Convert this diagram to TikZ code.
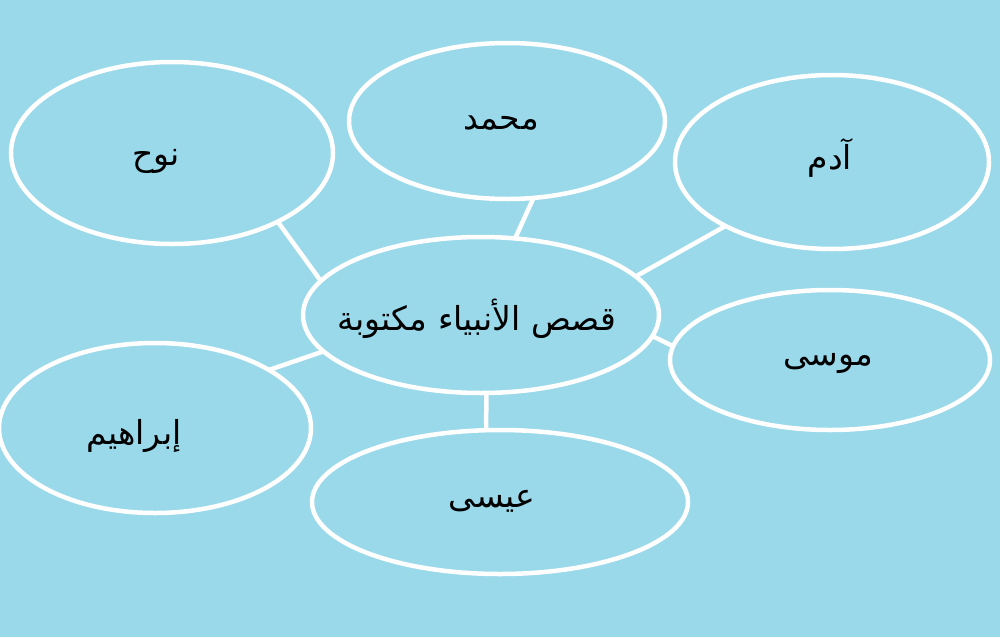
\documentclass[tikz,border=0pt]{standalone}
\usepackage{fontspec}
\newfontfamily\arabicfont[Script=Arabic]{DejaVu Sans}
\TeXXeTstate=1
\usetikzlibrary{shapes.geometric}
\definecolor{bg}{RGB}{153,217,234}
\begin{document}
\begin{tikzpicture}[x=1pt,y=-1pt,
  oval/.style={ellipse, draw=white, line width=4.5pt, inner sep=0pt, outer sep=0pt},
  link/.style={draw=white, line width=4.5pt},
  lbl/.style={font=\arabicfont\fontsize{33}{40}\selectfont, text=black, inner sep=0pt}]
\fill[bg] (0,0) rectangle (1000,637);
\useasboundingbox (0,0) rectangle (1000,637);
% ellipses
\node[oval, minimum width=356pt, minimum height=156pt] (c) at (481,315) {};
\node[oval, minimum width=322pt, minimum height=182pt] (nooh) at (172,153) {};
\node[oval, minimum width=316pt, minimum height=156pt] (muh) at (507,121) {};
\node[oval, minimum width=314pt, minimum height=174pt] (adam) at (832,162) {};
\node[oval, minimum width=320pt, minimum height=140pt] (musa) at (830,360) {};
\node[oval, minimum width=312pt, minimum height=170pt] (ibr) at (155,428) {};
\node[oval, minimum width=376pt, minimum height=144pt] (isa) at (500,502) {};
% connectors
\draw[link] (c.168) -- (nooh.-33);
\draw[link] (c.66) -- (muh.-71);
\draw[link] (c.14) -- (adam.-149);
\draw[link] (c.-7) -- (musa.175);
\draw[link] (c.193) -- (ibr.27);
\draw[link] (c.-86) -- (isa.101);
% labels
\node[lbl] (tc) at (477,319) {\beginR قصص الأنبياء مكتوبة\endR};
\node[lbl] (tn) at (156,161) {\beginR نوح\endR};
\node[lbl] (tm) at (501,123) {\beginR محمد\endR};
\node[lbl] (ta) at (830,158) {\beginR آدم\endR};
\node[lbl] (ts) at (828,363) {\beginR موسى\endR};
\node[lbl] (ti) at (134,436) {\beginR إبراهيم\endR};
\node[lbl] (tsa) at (492,501) {\beginR عيسى\endR};
\end{tikzpicture}
\end{document}
